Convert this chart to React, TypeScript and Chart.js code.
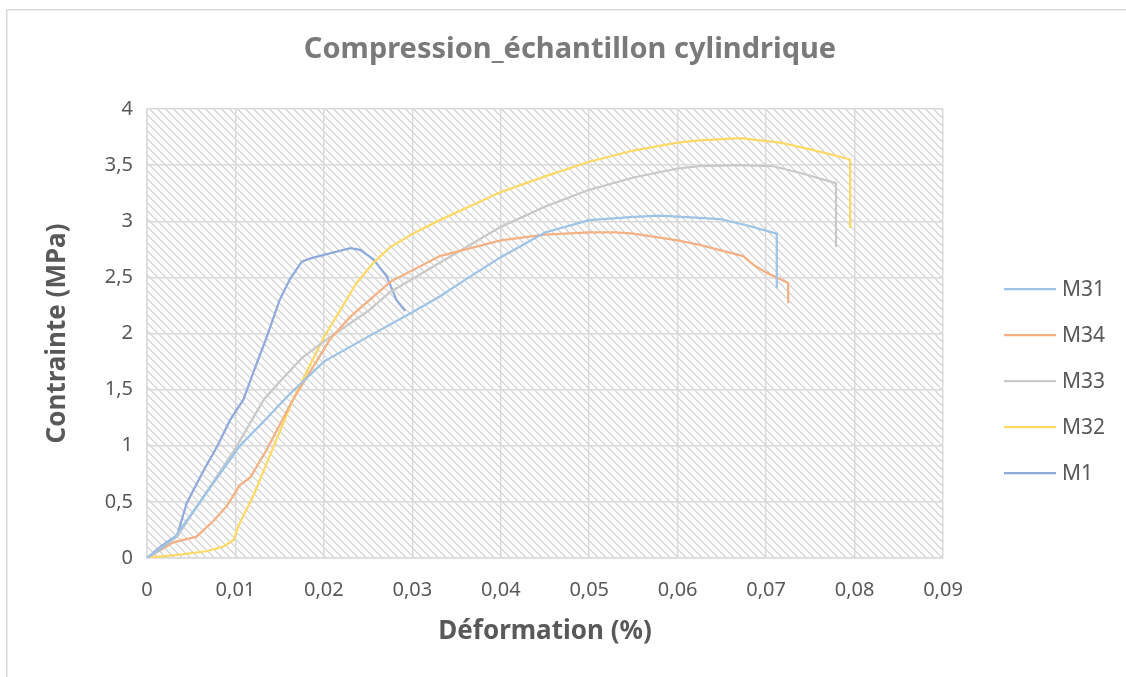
import React, { useEffect, useRef } from "react";
import { Chart, registerables } from "chart.js";

Chart.register(...registerables);

const TITLE = "Compression_échantillon cylindrique";
const X_TITLE = "Déformation (%)";
const Y_TITLE = "Contrainte (MPa)";
const SERIES_NAMES = ["M31", "M34", "M33", "M32", "M1"];
const SERIES_COLORS = ["#9dc3e6", "#f4b183", "#c9c9c9", "#ffd966", "#8faadc"];

const M31_X = [0, 0.0015, 0.0032, 0.0105, 0.013, 0.016, 0.02, 0.0245, 0.03, 0.0331, 0.036, 0.04, 0.045, 0.05, 0.055, 0.058, 0.0625, 0.0648, 0.068, 0.0712, 0.0712];
const M31_Y = [0, 0.08, 0.19, 1.0, 1.2, 1.45, 1.75, 1.95, 2.19, 2.33, 2.48, 2.68, 2.9, 3.01, 3.04, 3.05, 3.03, 3.02, 2.96, 2.89, 2.4];

const M34_X = [0, 0.003, 0.0056, 0.0075, 0.009, 0.0105, 0.0117, 0.0135, 0.0165, 0.0207, 0.023, 0.0275, 0.0331, 0.04, 0.045, 0.05, 0.053, 0.055, 0.06, 0.0625, 0.0674, 0.0686, 0.0701, 0.0725, 0.0725];
const M34_Y = [0, 0.14, 0.19, 0.33, 0.46, 0.65, 0.72, 0.96, 1.41, 1.95, 2.15, 2.46, 2.69, 2.83, 2.88, 2.9, 2.9, 2.89, 2.83, 2.79, 2.69, 2.61, 2.54, 2.45, 2.27];

const M33_X = [0, 0.0034, 0.0101, 0.0132, 0.015, 0.0175, 0.02, 0.025, 0.0275, 0.0331, 0.04, 0.045, 0.05, 0.055, 0.06, 0.0625, 0.067, 0.0708, 0.0739, 0.0761, 0.0779, 0.0779];
const M33_Y = [0, 0.19, 0.99, 1.41, 1.57, 1.78, 1.93, 2.2, 2.37, 2.63, 2.95, 3.13, 3.28, 3.39, 3.47, 3.49, 3.5, 3.49, 3.43, 3.38, 3.34, 2.77];

const M32_X = [0, 0.0037, 0.0067, 0.0086, 0.0098, 0.0103, 0.012, 0.0143, 0.0165, 0.01995, 0.0237, 0.0256, 0.0275, 0.0301, 0.0331, 0.04, 0.045, 0.05, 0.055, 0.06, 0.0625, 0.0671, 0.0693, 0.0716, 0.075, 0.0776, 0.0795, 0.0795];
const M32_Y = [0, 0.03, 0.06, 0.1, 0.16, 0.28, 0.55, 0.99, 1.41, 1.96, 2.45, 2.63, 2.77, 2.89, 3.01, 3.26, 3.4, 3.53, 3.63, 3.7, 3.72, 3.74, 3.72, 3.7, 3.64, 3.59, 3.55, 2.94];

const M1_X = [0, 0.0015, 0.0026, 0.0034, 0.0045, 0.0064, 0.0079, 0.0094, 0.0109, 0.012, 0.0135, 0.015, 0.0162, 0.0175, 0.0185, 0.02, 0.023, 0.0241, 0.0256, 0.0271, 0.0282, 0.0292];
const M1_Y = [0, 0.1, 0.16, 0.2, 0.49, 0.78, 0.99, 1.23, 1.41, 1.65, 1.96, 2.3, 2.49, 2.64, 2.67, 2.7, 2.76, 2.745, 2.66, 2.51, 2.3, 2.2];

const SERIES_X = [M31_X, M34_X, M33_X, M32_X, M1_X];
const SERIES_Y = [M31_Y, M34_Y, M33_Y, M32_Y, M1_Y];

const X_MIN = 0, X_MAX = 0.09, X_STEP = 0.01;
const Y_MIN = 0, Y_MAX = 4, Y_STEP = 0.5;

const FONT = "'Noto Sans', sans-serif";
const TEXT = "#595959";

function fmt(v: number, dec: number) {
  const r = Math.round(v * 1e6) / 1e6;
  if (r === 0) return "0";
  return r.toFixed(dec).replace(/0+$/, "").replace(/\.$/, "").replace(".", ",");
}

function makePattern(ctx: CanvasRenderingContext2D) {
  const c = document.createElement("canvas");
  c.width = 8; c.height = 8;
  const p = c.getContext("2d")!;
  p.fillStyle = "#ffffff";
  p.fillRect(0, 0, 8, 8);
  p.fillStyle = "#d9d9d9";
  for (let y = 0; y < 8; y++) {
    for (let x = 0; x < 8; x++) {
      const d = (((x - y) % 8) + 8) % 8;
      if (d === 0 || d === 1) p.fillRect(x, y, 1, 1);
    }
  }
  return ctx.createPattern(c, "repeat")!;
}

const decor = {
  id: "decor",
  beforeDraw(chart: any) {
    const { ctx, chartArea: a } = chart;
    ctx.save();
    ctx.fillStyle = "#ffffff";
    ctx.fillRect(0, 0, chart.width, chart.height);
    ctx.strokeStyle = "#d9d9d9";
    ctx.lineWidth = 1.5;
    ctx.strokeRect(6.75, 9.75, 1400, 1400);
    ctx.fillStyle = makePattern(ctx);
    ctx.fillRect(a.left, a.top, a.right - a.left, a.bottom - a.top);
    ctx.restore();
  },
  afterDraw(chart: any) {
    const { ctx, chartArea: a } = chart;
    ctx.save();
    ctx.fillStyle = "#7a7a7a";
    ctx.font = `bold 29px ${FONT}`;
    ctx.textAlign = "center";
    ctx.textBaseline = "middle";
    ctx.fillText(TITLE, 570, 50);

    ctx.fillStyle = TEXT;
    ctx.font = `bold 26px ${FONT}`;
    ctx.fillText(X_TITLE, 545, 632);
    ctx.save();
    ctx.translate(58, (a.top + a.bottom) / 2);
    ctx.rotate(-Math.PI / 2);
    ctx.fillText(Y_TITLE, 0, 0);
    ctx.restore();

    ctx.font = `21px ${FONT}`;
    ctx.textAlign = "left";
    SERIES_NAMES.forEach((n, i) => {
      const y = 289 + i * 46;
      ctx.strokeStyle = SERIES_COLORS[i];
      ctx.lineWidth = 2.25;
      ctx.beginPath();
      ctx.moveTo(1004, y);
      ctx.lineTo(1056, y);
      ctx.stroke();
      ctx.fillStyle = TEXT;
      ctx.fillText(n, 1062, y + 1);
    });
    ctx.restore();
  },
};

export default function App() {
  const ref = useRef<HTMLCanvasElement>(null);
  useEffect(() => {
    const datasets = SERIES_NAMES.map((name, i) => ({
      label: name,
      data: SERIES_X[i].map((x, j) => ({ x, y: SERIES_Y[i][j] })),
      borderColor: SERIES_COLORS[i],
      backgroundColor: SERIES_COLORS[i],
      borderWidth: 2.25,
      pointRadius: 0,
      showLine: true,
      tension: 0,
    }));
    const chart = new Chart(ref.current!, {
      type: "scatter",
      data: { datasets },
      options: {
        animation: false,
        responsive: false,
        layout: { padding: { left: 0, top: 109, right: 183, bottom: 0 } },
        plugins: { legend: { display: false }, title: { display: false }, tooltip: { enabled: false } },
        scales: {
          x: {
            type: "linear",
            min: X_MIN, max: X_MAX,
            ticks: {
              stepSize: X_STEP,
              color: TEXT,
              font: { family: FONT, size: 20 },
              padding: 20,
              maxRotation: 0,
              callback: (v: any) => fmt(Number(v), 2),
            },
            grid: { color: "#d9d9d9", lineWidth: 1.5, drawTicks: false },
            border: { color: "#d9d9d9", width: 1.5 },
            afterFit: (s: any) => { s.height = 677 - 558; },
          },
          y: {
            type: "linear",
            min: Y_MIN, max: Y_MAX,
            ticks: {
              stepSize: Y_STEP,
              color: TEXT,
              font: { family: FONT, size: 20 },
              padding: 14,
              callback: (v: any) => fmt(Number(v), 1),
            },
            grid: { color: "#d9d9d9", lineWidth: 1.5, drawTicks: false },
            border: { color: "#d9d9d9", width: 1.5 },
            afterFit: (s: any) => { s.width = 147; },
          },
        },
      },
      plugins: [decor],
    });
    return () => chart.destroy();
  }, []);
  return (
    <canvas
      ref={ref}
      width={1126}
      height={677}
      style={{ position: "fixed", left: 0, top: 0, width: 1126, height: 677 }}
    />
  );
}
